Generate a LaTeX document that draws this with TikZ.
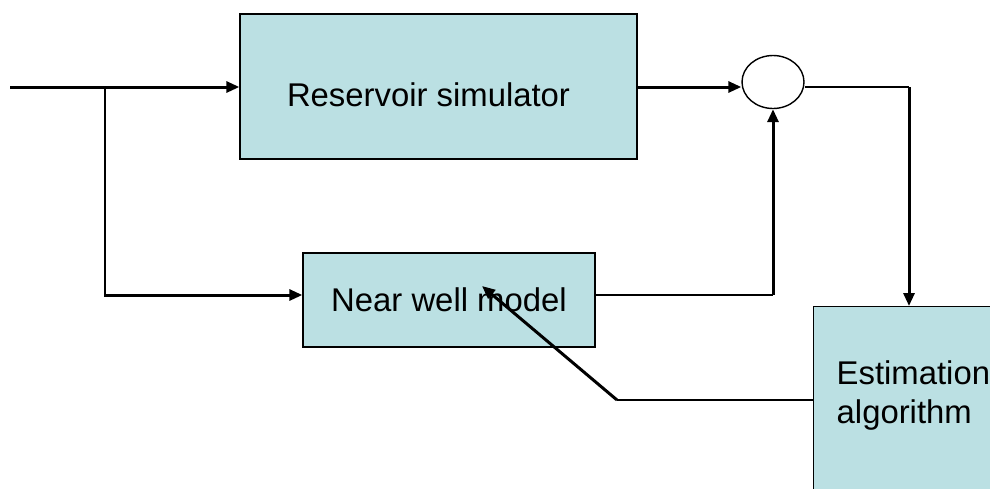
\documentclass[tikz,border=0pt]{standalone}
\usepackage{fontspec}
\setmainfont{Liberation Sans}
\usepackage{tikz}
\usetikzlibrary{arrows.meta,shapes.geometric}
\definecolor{boxblue}{RGB}{187,224,227}

\begin{document}
\begin{tikzpicture}[x=0.02cm, y=-0.02cm, font=\fontsize{18.7}{22.4}\selectfont, >={Triangle[length=2.6mm, width=2.2mm]}]
	\useasboundingbox (0,0) rectangle (990,488);
	\clip (0,0) rectangle (990,488);
      \tikzstyle{block} = [draw, line width=0.8pt, fill=boxblue, rectangle, inner sep=0pt]
      \tikzstyle{thickline} = [line width=1.7pt]
      \tikzstyle{thinline} = [line width=0.85pt]
      % blocks
      \node (res) [block, minimum width=7.94cm, minimum height=2.9cm, text height=0.9cm, text depth=0.12cm] at (438.5,86.5) {Reservoir simulator\hspace*{0.4cm}};
      \node (near) [block, minimum width=5.84cm, minimum height=1.88cm] at (449,300) {Near well model};
      \node (sum) [draw, line width=0.8pt, ellipse, inner sep=0pt, minimum width=1.24cm, minimum height=1.06cm] at (773,82) {};
      \node (est) [block, anchor=north west, align=left, inner xsep=0.46cm, inner ysep=1.08cm, text width=5cm, text depth=5cm] at (813,306) {Estimation\\algorithm};
      \coordinate (in) at (10,87);
      \coordinate (split) at (105,87);
      \coordinate (corner) at (909,87);
      \coordinate (up) at (773,295);
      \coordinate (kink) at (617,400);
      \coordinate (tune) at (482,286);
      % connectors
      \draw[thickline,->] (in) -- (res.west |- in);
      \draw[thickline,->] (split) |- (near.west |- up);
      \draw[thickline,->] (res.east |- in) -- (sum.west |- in);
      \draw[thinline] (sum.east |- in) -- (corner);
      \draw[thickline,->] (corner) -- (corner |- est.north);
      \draw[thinline] (near.east |- up) -- (up);
      \draw[thickline,->] (up) -- (sum.south);
      \draw[thinline] (est.west |- kink) -- (kink);
      \draw[thickline,->] (kink) -- (tune);
\end{tikzpicture}
\end{document}
